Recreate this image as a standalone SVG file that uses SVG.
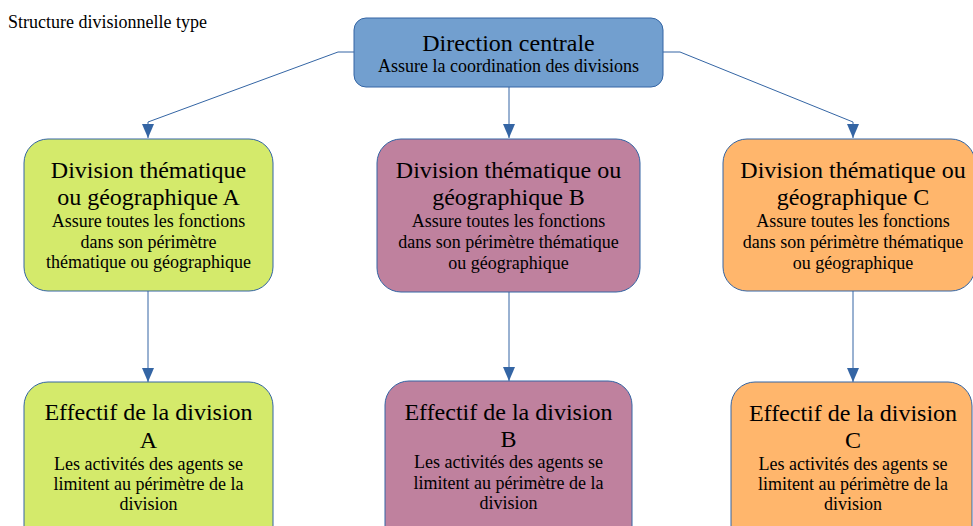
<svg xmlns="http://www.w3.org/2000/svg" width="973" height="526" viewBox="0 0 973 526">
<style>
text{font-family:"Liberation Serif","Times New Roman",serif;fill:#000;text-anchor:middle}
.t{font-size:24px}
.s{font-size:18px}
.box{stroke:#3465a4;stroke-width:1}
.a{fill:#d4ea6b}
.b{fill:#bf819e}
.c{fill:#ffb66c}
.conn{fill:none;stroke:#3465a4;stroke-width:1}
</style>
<defs>
<marker id="arr" viewBox="0 0 14 12" refX="14" refY="6" markerWidth="14" markerHeight="12" markerUnits="userSpaceOnUse" orient="auto">
<path d="M0,0 L14,6 L0,12 Z" fill="#3465a4"/>
</marker>
</defs>
<rect width="973" height="526" fill="#fff"/>
<text x="8" y="28" style="font-size:18px;text-anchor:start">Structure divisionnelle type</text>
<g id="connectors">
<path class="conn" d="M354,52 L338,52 L148,122 L148,138" marker-end="url(#arr)"/>
<path class="conn" d="M663,52 L680,52 L853,122 L853,138" marker-end="url(#arr)"/>
<path class="conn" d="M509,87 L509,138" marker-end="url(#arr)"/>
<path class="conn" d="M148,291 L148,382" marker-end="url(#arr)"/>
<path class="conn" d="M509,292 L509,381" marker-end="url(#arr)"/>
<path class="conn" d="M853,291 L853,382" marker-end="url(#arr)"/>
</g>
<g id="direction">
<rect class="box" x="354" y="18" width="309" height="69" rx="12" fill="#729fcf"/>
<text class="t" x="508.5" y="51">Direction centrale</text>
<text class="s" x="508.5" y="72">Assure la coordination des divisions</text>
</g>
<g id="divA">
<rect class="box a" x="24" y="139" width="249" height="152" rx="24"/>
<text class="t" x="148.5" y="178">Division thématique</text>
<text class="t" x="148.5" y="205">ou géographique A</text>
<text class="s" x="148.5" y="227">Assure toutes les fonctions</text>
<text class="s" x="148.5" y="248">dans son périmètre</text>
<text class="s" x="148.5" y="268">thématique ou géographique</text>
</g>
<g id="divB">
<rect class="box b" x="377" y="139" width="263" height="153" rx="24"/>
<text class="t" x="508.5" y="178">Division thématique ou</text>
<text class="t" x="508.5" y="205">géographique B</text>
<text class="s" x="508.5" y="227">Assure toutes les fonctions</text>
<text class="s" x="508.5" y="248">dans son périmètre thématique</text>
<text class="s" x="508.5" y="269">ou géographique</text>
</g>
<g id="divC">
<rect class="box c" x="723" y="139" width="252" height="152" rx="24"/>
<text class="t" x="853" y="178">Division thématique ou</text>
<text class="t" x="853" y="205">géographique C</text>
<text class="s" x="853" y="227">Assure toutes les fonctions</text>
<text class="s" x="853" y="248">dans son périmètre thématique</text>
<text class="s" x="853" y="269">ou géographique</text>
</g>
<g id="effA">
<rect class="box a" x="24" y="382" width="249" height="170" rx="24"/>
<text class="t" x="148.5" y="420">Effectif de la division</text>
<text class="t" x="148.5" y="448">A</text>
<text class="s" x="148.5" y="470">Les activités des agents se</text>
<text class="s" x="148.5" y="490">limitent au périmètre de la</text>
<text class="s" x="148.5" y="510">division</text>
</g>
<g id="effB">
<rect class="box b" x="385" y="381" width="247" height="170" rx="24"/>
<text class="t" x="508.5" y="420">Effectif de la division</text>
<text class="t" x="508.5" y="447">B</text>
<text class="s" x="508.5" y="468">Les activités des agents se</text>
<text class="s" x="508.5" y="489">limitent au périmètre de la</text>
<text class="s" x="508.5" y="509">division</text>
</g>
<g id="effC">
<rect class="box c" x="731" y="382" width="241" height="170" rx="24"/>
<text class="t" x="853" y="421">Effectif de la division</text>
<text class="t" x="853" y="448">C</text>
<text class="s" x="853" y="470">Les activités des agents se</text>
<text class="s" x="853" y="490">limitent au périmètre de la</text>
<text class="s" x="853" y="510">division</text>
</g>
</svg>
